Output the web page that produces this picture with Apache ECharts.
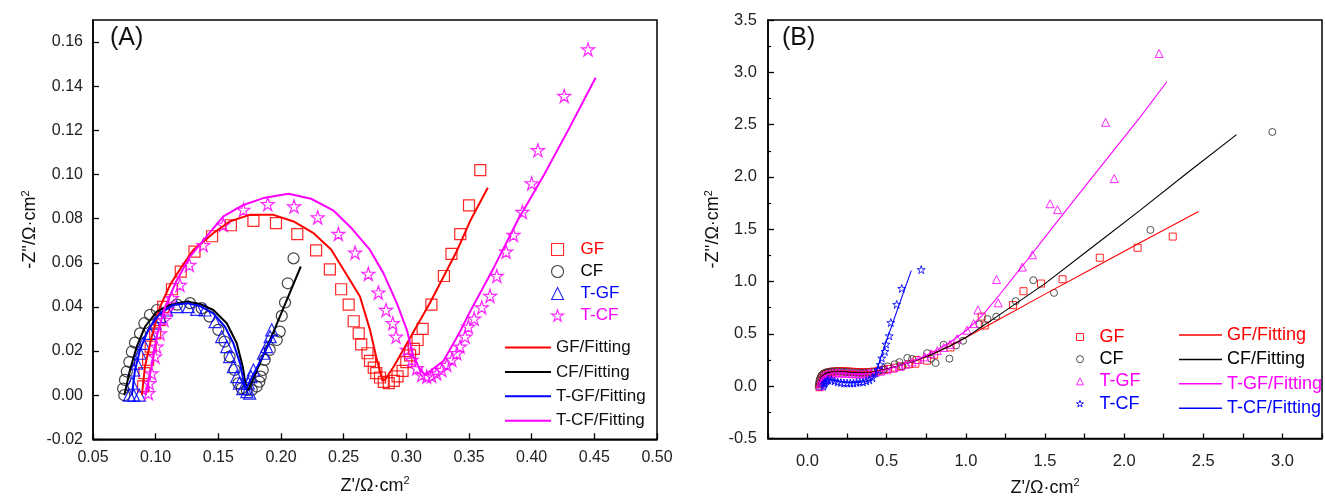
<!DOCTYPE html>
<html><head><meta charset="utf-8">
<script src="https://cdn.jsdelivr.net/npm/echarts@6/dist/echarts.min.js"></script>
<style>html,body{margin:0;padding:0;background:#fff}#c{width:1325px;height:502px}</style>
</head><body><div id="c"></div>
<script>
// ---------- Panel A data ----------
const gfA = [[0.090,0.004],[0.091,0.010],[0.094,0.016],[0.096,0.022],[0.0996,0.028],[0.103,0.034],[0.106,0.040],[0.113,0.048],[0.120,0.056],[0.131,0.065],[0.145,0.072],[0.160,0.077],[0.178,0.079],[0.196,0.078],[0.213,0.073],[0.228,0.0656],[0.239,0.057],[0.248,0.048],[0.254,0.041],[0.258,0.0335],[0.262,0.028],[0.264,0.023],[0.269,0.019],[0.271,0.0155],[0.274,0.0125],[0.276,0.010],[0.279,0.008],[0.282,0.006],[0.286,0.0055],[0.290,0.0065],[0.293,0.0085],[0.297,0.011],[0.300,0.015],[0.303,0.018],[0.306,0.021],[0.309,0.025],[0.313,0.030],[0.320,0.041],[0.330,0.054],[0.336,0.064],[0.343,0.073],[0.350,0.086],[0.359,0.102]];
const cfA = [[0.075,0.000],[0.074,0.003],[0.0755,0.0069],[0.077,0.0107],[0.079,0.015],[0.081,0.0197],[0.0835,0.0238],[0.0875,0.028],[0.091,0.0326],[0.0955,0.0364],[0.101,0.0386],[0.117,0.041],[0.1274,0.0417],[0.1367,0.0394],[0.143,0.0356],[0.150,0.0296],[0.155,0.0243],[0.159,0.0175],[0.163,0.0114],[0.166,0.0054],[0.1687,0.0031],[0.1727,0.0024],[0.1767,0.0024],[0.1806,0.0039],[0.1827,0.0061],[0.1838,0.0084],[0.1854,0.0114],[0.187,0.016],[0.191,0.0205],[0.1966,0.025],[0.199,0.0288],[0.2006,0.0359],[0.2032,0.042],[0.2054,0.0507],[0.210,0.062]];
const tgfA = [[0.079,0.000],[0.0825,0.000],[0.087,0.000],[0.081,0.0054],[0.0825,0.0114],[0.085,0.0145],[0.0875,0.019],[0.090,0.0235],[0.0955,0.028],[0.0995,0.0326],[0.1035,0.0356],[0.1088,0.0386],[0.1168,0.0401],[0.126,0.0401],[0.1327,0.0389],[0.1394,0.0386],[0.1474,0.0333],[0.1527,0.0265],[0.1567,0.022],[0.159,0.0175],[0.162,0.0129],[0.1647,0.0084],[0.1668,0.0054],[0.1695,0.003],[0.1727,0.0016],[0.175,0.0009],[0.174,0.0054],[0.176,0.0084],[0.178,0.0114],[0.186,0.019],[0.1886,0.022],[0.1913,0.0265],[0.1926,0.0296]];
const tcfA = [[0.0942,0.0009],[0.095,0.0054],[0.0968,0.0099],[0.0995,0.0175],[0.1008,0.022],[0.1035,0.028],[0.1067,0.0341],[0.1093,0.0386],[0.113,0.044],[0.1194,0.050],[0.1269,0.059],[0.138,0.068],[0.154,0.0772],[0.170,0.084],[0.1894,0.0866],[0.2104,0.0855],[0.2293,0.0806],[0.2458,0.0731],[0.2591,0.0646],[0.2697,0.055],[0.2777,0.0465],[0.2838,0.0386],[0.2892,0.0326],[0.2918,0.0265],[0.3004,0.0205],[0.3043,0.016],[0.3083,0.0122],[0.3123,0.0092],[0.3163,0.0084],[0.3203,0.0087],[0.3243,0.0099],[0.3283,0.0114],[0.3323,0.0137],[0.3363,0.016],[0.3403,0.019],[0.3429,0.022],[0.3469,0.0265],[0.3495,0.031],[0.3541,0.0347],[0.3602,0.0398],[0.3668,0.045],[0.3722,0.054],[0.3796,0.065],[0.3855,0.0726],[0.3926,0.083],[0.400,0.096],[0.405,0.111],[0.426,0.1356],[0.445,0.1567]];
const gfFitA = [[0.089,0.000],[0.0915,0.013],[0.0968,0.0265],[0.1035,0.040],[0.1115,0.050],[0.1194,0.057],[0.130,0.0658],[0.146,0.0734],[0.159,0.0787],[0.175,0.0817],[0.194,0.0817],[0.210,0.0787],[0.226,0.0734],[0.240,0.066],[0.253,0.054],[0.263,0.0447],[0.271,0.0296],[0.2765,0.016],[0.281,0.0065],[0.283,0.007],[0.290,0.013],[0.300,0.023],[0.319,0.042],[0.340,0.065],[0.351,0.079],[0.365,0.094]];
const cfFitA = [[0.075,0.000],[0.0795,0.0114],[0.0849,0.022],[0.0915,0.031],[0.1008,0.0379],[0.1115,0.0409],[0.1248,0.0424],[0.1354,0.0413],[0.146,0.0386],[0.1567,0.0326],[0.1647,0.0235],[0.1695,0.0129],[0.172,0.0039],[0.174,0.0024],[0.195,0.030],[0.2158,0.0583]];
const tgfFitA = [[0.081,0.000],[0.0835,0.0114],[0.0875,0.0205],[0.094,0.0296],[0.1035,0.0371],[0.114,0.0409],[0.1248,0.0417],[0.1354,0.0404],[0.146,0.0371],[0.1553,0.031],[0.162,0.0235],[0.1673,0.0145],[0.1705,0.0054],[0.172,0.0027],[0.194,0.0273]];
const tcfFitA = [[0.092,0.000],[0.0968,0.013],[0.1008,0.0265],[0.1075,0.040],[0.1168,0.052],[0.1274,0.0628],[0.1407,0.072],[0.154,0.081],[0.170,0.0862],[0.186,0.0893],[0.206,0.0913],[0.224,0.089],[0.242,0.0836],[0.2565,0.0755],[0.271,0.0658],[0.2817,0.0553],[0.2924,0.0417],[0.3004,0.0296],[0.3056,0.0175],[0.311,0.0114],[0.315,0.0092],[0.3296,0.0155],[0.343,0.029],[0.351,0.038],[0.370,0.058],[0.389,0.0794],[0.410,0.100],[0.430,0.121],[0.451,0.1438]];

// ---------- Panel B data ----------
const gfB = [[0.075,-0.01],[0.078,0.02],[0.082,0.05],[0.088,0.075],[0.095,0.095],[0.105,0.11],[0.115,0.12],[0.13,0.13],[0.145,0.135],[0.16,0.14],[0.18,0.142],[0.20,0.143],[0.22,0.143],[0.24,0.142],[0.26,0.14],[0.28,0.138],[0.30,0.136],[0.32,0.134],[0.34,0.133],[0.36,0.133],[0.38,0.134],[0.40,0.136],[0.42,0.14],[0.45,0.148],[0.48,0.156],[0.51,0.165],[0.55,0.177],[0.59,0.19],[0.64,0.21],[0.681,0.215],[0.69,0.25],[0.755,0.244],[0.80,0.30],[0.903,0.37],[1.10,0.665],[1.12,0.58],[1.298,0.775],[1.364,0.908],[1.475,0.981],[1.611,1.022],[1.846,1.228],[2.085,1.323],[2.307,1.430]];
const cfB = [[0.07,0.0],[0.072,0.03],[0.076,0.06],[0.082,0.085],[0.09,0.105],[0.10,0.12],[0.115,0.13],[0.13,0.135],[0.15,0.14],[0.17,0.142],[0.19,0.142],[0.21,0.14],[0.23,0.138],[0.25,0.135],[0.27,0.132],[0.29,0.13],[0.31,0.128],[0.33,0.127],[0.35,0.127],[0.37,0.128],[0.39,0.13],[0.42,0.135],[0.45,0.145],[0.48,0.16],[0.506,0.19],[0.55,0.21],[0.58,0.23],[0.60,0.19],[0.63,0.27],[0.66,0.26],[0.755,0.316],[0.78,0.263],[0.809,0.222],[0.859,0.396],[0.896,0.263],[0.938,0.389],[0.982,0.434],[1.086,0.592],[1.137,0.642],[1.192,0.665],[1.315,0.813],[1.426,1.013],[1.557,0.892],[2.166,1.494],[2.936,2.430]];
const tgfB = [[0.08,0.0],[0.083,0.03],[0.087,0.06],[0.093,0.08],[0.10,0.095],[0.11,0.105],[0.125,0.115],[0.14,0.12],[0.16,0.125],[0.18,0.127],[0.20,0.128],[0.22,0.127],[0.24,0.125],[0.26,0.123],[0.28,0.12],[0.30,0.119],[0.32,0.118],[0.34,0.118],[0.36,0.12],[0.38,0.123],[0.40,0.127],[0.43,0.134],[0.46,0.143],[0.50,0.157],[0.54,0.172],[0.58,0.19],[0.62,0.21],[0.66,0.232],[0.70,0.255],[0.74,0.28],[0.78,0.31],[0.82,0.34],[0.86,0.37],[0.90,0.40],[0.945,0.453],[1.007,0.535],[1.049,0.598],[1.076,0.728],[1.194,1.019],[1.204,0.797],[1.357,1.139],[1.421,1.256],[1.532,1.744],[1.579,1.687],[1.883,2.522],[1.937,1.984],[2.221,3.18]];
const tcfB = [[0.10,0.0],[0.105,0.02],[0.11,0.035],[0.12,0.05],[0.13,0.06],[0.15,0.06],[0.17,0.05],[0.19,0.04],[0.21,0.035],[0.23,0.03],[0.25,0.03],[0.27,0.03],[0.29,0.03],[0.31,0.035],[0.33,0.04],[0.35,0.04],[0.37,0.05],[0.39,0.06],[0.41,0.08],[0.427,0.127],[0.444,0.158],[0.459,0.206],[0.469,0.269],[0.489,0.332],[0.496,0.402],[0.516,0.481],[0.526,0.608],[0.563,0.782],[0.595,0.934],[0.718,1.114]];
const gfFitB = [[0.07,-0.02],[0.072,0.02],[0.078,0.06],[0.088,0.09],[0.10,0.11],[0.12,0.127],[0.15,0.138],[0.19,0.143],[0.23,0.143],[0.27,0.139],[0.31,0.135],[0.35,0.133],[0.40,0.137],[0.45,0.15],[0.50,0.165],[0.60,0.205],[0.70,0.255],[0.80,0.315],[0.90,0.385],[1.00,0.465],[1.20,0.63],[1.50,0.88],[1.80,1.125],[2.10,1.37],[2.47,1.67]];
const cfFitB = [[0.07,-0.02],[0.072,0.02],[0.078,0.06],[0.088,0.09],[0.10,0.11],[0.12,0.125],[0.15,0.135],[0.19,0.138],[0.23,0.137],[0.27,0.133],[0.31,0.128],[0.35,0.127],[0.40,0.131],[0.45,0.145],[0.50,0.165],[0.60,0.205],[0.70,0.255],[0.80,0.315],[0.90,0.385],[1.00,0.465],[1.20,0.67],[1.50,0.98],[1.80,1.33],[2.10,1.68],[2.40,2.04],[2.71,2.405]];
const tgfFitB = [[0.07,-0.02],[0.073,0.02],[0.08,0.055],[0.09,0.08],[0.10,0.095],[0.12,0.112],[0.15,0.123],[0.19,0.128],[0.23,0.127],[0.27,0.122],[0.31,0.118],[0.35,0.118],[0.40,0.126],[0.45,0.14],[0.50,0.16],[0.60,0.205],[0.70,0.26],[0.80,0.33],[0.90,0.42],[1.00,0.53],[1.10,0.67],[1.20,0.85],[1.30,1.04],[1.40,1.23],[1.50,1.425],[1.70,1.81],[1.90,2.19],[2.10,2.57],[2.27,2.91]];
const tcfFitB = [[0.10,-0.005],[0.105,0.025],[0.115,0.05],[0.13,0.062],[0.16,0.058],[0.20,0.045],[0.25,0.036],[0.30,0.034],[0.35,0.04],[0.39,0.055],[0.415,0.08],[0.43,0.12],[0.47,0.31],[0.50,0.44],[0.55,0.655],[0.60,0.87],[0.655,1.105]];

// tick labels / names
const namesA = ['GF','CF','T-GF','T-CF'];
const fitNames = ['GF/Fitting','CF/Fitting','T-GF/Fitting','T-CF/Fitting'];
const xName = "Z'/Ω·cm{sup|2}";
const yName = "-Z''/Ω·cm{sup|2}";

const FONT = "'Liberation Sans', Arial, sans-serif";
const RED='#ff0000', BLK='#000000', BLU='#0000ff', MAG='#ff00ff';
const STAR = 'path://M0,-1 L0.2245,-0.309 L0.951,-0.309 L0.363,0.118 L0.588,0.809 L0,0.382 L-0.588,0.809 L-0.363,0.118 L-0.951,-0.309 L-0.2245,-0.309 Z';
const rich = {sup:{fontSize:11, fontFamily:FONT, color:'#111', padding:[0,0,10,0]}};
const hollow = (c, w) => ({color:'rgba(255,255,255,0)', borderColor:c, borderWidth:w});

function scat(name, data, sym, color, size, xi, bw){
  return {type:'scatter', name, data, xAxisIndex:xi, yAxisIndex:xi, symbol:sym, symbolSize:size,
    itemStyle:Object.assign(hollow(color,bw), {opacity:0.85}), z:2, silent:true};
}
function fit(name, data, color, xi, w){
  return {type:'line', name, data, xAxisIndex:xi, yAxisIndex:xi, symbol:'none', showSymbol:false,
    lineStyle:{color, width:w}, itemStyle:{color}, z:3, silent:true, animation:false};
}
const axisCommon = {
  axisLine:{show:true, onZero:false, lineStyle:{color:'#000', width:1.5}},
  axisTick:{show:true, inside:true, length:6, lineStyle:{color:'#000', width:1.3}},
  splitLine:{show:false},
  nameTextStyle:{fontSize:18, fontFamily:FONT, color:'#111', rich}
};
function ax(extra){ return Object.assign({}, JSON.parse(JSON.stringify(axisCommon)), extra); }

const B = s => s + ' '; // distinct series names for panel B

const option = {
  animation:false,
  backgroundColor:'#fff',
  grid:[
    {left:93, top:20, width:564, height:419.3, show:true, borderColor:'#000', borderWidth:1.5},
    {left:768, top:20, width:563.5, height:420.7, show:true, borderColor:'#000', borderWidth:1.5}
  ],
  xAxis:[
    ax({type:'value', gridIndex:0, min:0.05, max:0.50, interval:0.05, name:xName, nameLocation:'middle', nameGap:36,
        axisLabel:{fontSize:16, fontFamily:FONT, color:'#222', margin:10, formatter:v=>v.toFixed(2)}}),
    ax({type:'value', gridIndex:1, min:-0.25, max:3.25, interval:0.25, name:xName, nameLocation:'middle', nameGap:39,
        axisTick:{show:true, inside:true, length:5, lineStyle:{color:'#000', width:1.3}},
        axisLabel:{fontSize:16.5, fontFamily:FONT, color:'#222', margin:14, showMinLabel:true, showMaxLabel:true,
          formatter:v=>{const k=v*2; return Math.abs(k-Math.round(k))<1e-6 ? v.toFixed(1) : '';}}})
  ],
  yAxis:[
    ax({type:'value', gridIndex:0, min:-0.02, max:0.17, interval:0.02, name:yName, nameLocation:'middle', nameGap:52, nameRotate:90,
        axisLabel:{fontSize:16, fontFamily:FONT, color:'#222', margin:10, showMaxLabel:false, formatter:v=>v.toFixed(2)}}),
    ax({type:'value', gridIndex:1, min:-0.5, max:3.5, interval:0.5, name:yName, nameLocation:'middle', nameGap:44, nameRotate:90,
        minorTick:{show:true, splitNumber:2, length:3, lineStyle:{color:'#000', width:1.2}},
        axisLabel:{fontSize:16.5, fontFamily:FONT, color:'#222', margin:11, formatter:v=>v.toFixed(1)}})
  ],
  legend:[
    {left:546, top:236, orient:'vertical', itemWidth:12, itemHeight:12, itemGap:5, selectedMode:false,
      textStyle:{fontSize:17, fontFamily:FONT, padding:[0,0,0,12]},
      data:[{name:'GF',textStyle:{color:RED},itemStyle:hollow(RED,1.1)},
            {name:'CF',textStyle:{color:BLK},itemStyle:hollow('#222',1.1)},
            {name:'T-GF',textStyle:{color:BLU},itemStyle:hollow(BLU,1.1)},
            {name:'T-CF',textStyle:{color:MAG},itemStyle:hollow(MAG,1.1)}]},
    {left:500, top:334, orient:'vertical', itemWidth:46, itemHeight:2, itemGap:7.4, icon:'rect', selectedMode:false,
      textStyle:{fontSize:17, fontFamily:FONT, color:'#111'},
      data:fitNames},
    {left:1071, top:323, orient:'vertical', itemWidth:7, itemHeight:7, itemGap:4.2, selectedMode:false,
      textStyle:{fontSize:18, fontFamily:FONT, padding:[0,0,0,11]},
      data:[{name:B('GF'),textStyle:{color:RED},itemStyle:hollow(RED,1)},
            {name:B('CF'),textStyle:{color:BLK},itemStyle:hollow('#333',1)},
            {name:B('T-GF'),textStyle:{color:MAG},itemStyle:hollow(MAG,1)},
            {name:B('T-CF'),textStyle:{color:BLU},itemStyle:hollow(BLU,1)}]},
    {left:1174, top:321, orient:'vertical', itemWidth:43, itemHeight:1.5, itemGap:6.4, icon:'rect', selectedMode:false,
      textStyle:{fontSize:18, fontFamily:FONT},
      data:[{name:B('GF/Fitting'),textStyle:{color:RED}},{name:B('CF/Fitting'),textStyle:{color:BLK}},{name:B('T-GF/Fitting'),textStyle:{color:MAG}},{name:B('T-CF/Fitting'),textStyle:{color:BLU}}]}
  ],
  graphic:[
    {type:'text', left:110, top:26, style:{text:'(A)', font:'25px '+FONT, fill:'#111'}},
    {type:'text', left:782, top:26, style:{text:'(B)', font:'25px '+FONT, fill:'#111'}}
  ],
  series:[
    scat('GF', gfA, 'rect', RED, 11, 0, 1.2),
    scat('CF', cfA, 'circle', '#222', 11, 0, 1.2),
    scat('T-GF', tgfA, 'triangle', BLU, 12, 0, 1.2),
    scat('T-CF', tcfA, STAR, MAG, 13, 0, 1.2),
    fit('GF/Fitting', gfFitA, RED, 0, 2),
    fit('CF/Fitting', cfFitA, BLK, 0, 2),
    fit('T-GF/Fitting', tgfFitA, BLU, 0, 2),
    fit('T-CF/Fitting', tcfFitA, MAG, 0, 2),
    scat(B('GF'), gfB, 'rect', RED, 7, 1, 1),
    scat(B('CF'), cfB, 'circle', '#333', 7, 1, 1),
    scat(B('T-GF'), tgfB, 'triangle', MAG, 8, 1, 1),
    scat(B('T-CF'), tcfB, STAR, BLU, 8, 1, 1),
    fit(B('GF/Fitting'), gfFitB, RED, 1, 1.1),
    fit(B('CF/Fitting'), cfFitB, BLK, 1, 1.1),
    fit(B('T-GF/Fitting'), tgfFitB, MAG, 1, 1.1),
    fit(B('T-CF/Fitting'), tcfFitB, BLU, 1, 1.1)
  ]
};
const chart = echarts.init(document.getElementById('c'), null, {renderer:'canvas'});
chart.setOption(option);
</script>
</body></html>
